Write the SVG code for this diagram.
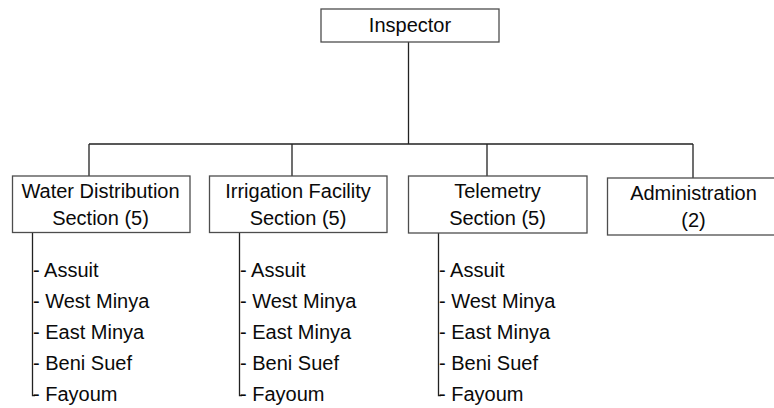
<svg xmlns="http://www.w3.org/2000/svg" width="774" height="408" viewBox="0 0 774 408">
<style>
.box{fill:#fff;stroke:#4d4d4d;stroke-width:1.3}
.t{font-family:"Liberation Sans",Arial,sans-serif;font-size:20px;fill:#0a0a0a}
.c{text-anchor:middle}
.ln{fill:none;stroke:#222;stroke-width:1.3}
</style>
<rect width="774" height="408" fill="#fff"/>
<g id="connectors">
<path class="ln" d="M408.5 42V144M89 144H693M89 144V176M292 144V176M487 144V176M693 144V178"/>
<path class="ln" d="M32.5 233V395.5H35"/>
<path class="ln" d="M239.5 233V395.5H242"/>
<path class="ln" d="M438.5 233V395.5H441"/>
</g>
<g id="inspector">
<rect class="box" x="321" y="9" width="178" height="33"/>
<text class="t c" x="410" y="32">Inspector</text>
</g>
<g id="water">
<rect class="box" x="12.5" y="176" width="177.5" height="56.5"/>
<text class="t c" x="100.5" y="198">Water Distribution</text>
<text class="t c" x="100.5" y="225">Section (5)</text>
</g>
<g id="irrigation">
<rect class="box" x="209.5" y="176" width="177.5" height="56.5"/>
<text class="t c" x="298" y="198">Irrigation Facility</text>
<text class="t c" x="298" y="225">Section (5)</text>
</g>
<g id="telemetry">
<rect class="box" x="408.5" y="176" width="178.5" height="57"/>
<text class="t c" x="497.5" y="198">Telemetry</text>
<text class="t c" x="497.5" y="225">Section (5)</text>
</g>
<g id="administration">
<rect class="box" x="607.5" y="178" width="180" height="57"/>
<text class="t c" x="693.5" y="200">Administration</text>
<text class="t c" x="693.5" y="227">(2)</text>
</g>
<g id="list-water">
<text class="t" x="33" y="277">- Assuit</text>
<text class="t" x="33" y="308">- West Minya</text>
<text class="t" x="33" y="339">- East Minya</text>
<text class="t" x="33" y="370">- Beni Suef</text>
<text class="t" x="33" y="401">- Fayoum</text>
</g>
<g id="list-irrigation">
<text class="t" x="240" y="277">- Assuit</text>
<text class="t" x="240" y="308">- West Minya</text>
<text class="t" x="240" y="339">- East Minya</text>
<text class="t" x="240" y="370">- Beni Suef</text>
<text class="t" x="240" y="401">- Fayoum</text>
</g>
<g id="list-telemetry">
<text class="t" x="439" y="277">- Assuit</text>
<text class="t" x="439" y="308">- West Minya</text>
<text class="t" x="439" y="339">- East Minya</text>
<text class="t" x="439" y="370">- Beni Suef</text>
<text class="t" x="439" y="401">- Fayoum</text>
</g>
</svg>
